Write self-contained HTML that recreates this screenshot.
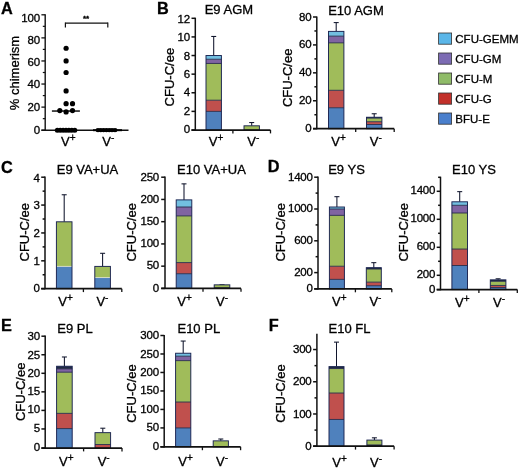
<!DOCTYPE html>
<html lang="en"><head><meta charset="utf-8"><title>Figure</title>
<style>
html,body{margin:0;padding:0;background:#fff;}
body{width:520px;height:468px;overflow:hidden;}
svg{display:block;font-family:"Liberation Sans", Arial, sans-serif;filter:blur(0.35px);}
text{fill:#000;stroke:#000;stroke-width:0.3px;}
</style></head><body>
<svg width="520" height="468" viewBox="0 0 520 468">
<rect x="0" y="0" width="520" height="468" fill="#ffffff"/>
<text x="1.00" y="13.50" font-size="16.3" text-anchor="start" font-weight="bold" >A</text>
<text x="157.00" y="13.50" font-size="16.3" text-anchor="start" font-weight="bold" >B</text>
<text x="1.00" y="172.70" font-size="16.3" text-anchor="start" font-weight="bold" >C</text>
<text x="267.70" y="172.30" font-size="16.3" text-anchor="start" font-weight="bold" >D</text>
<text x="1.00" y="331.20" font-size="16.3" text-anchor="start" font-weight="bold" >E</text>
<text x="268.70" y="330.80" font-size="16.3" text-anchor="start" font-weight="bold" >F</text>
<line x1="45.20" y1="14.20" x2="45.20" y2="130.80" stroke="#111" stroke-width="1.4"/>
<line x1="41.40" y1="130.20" x2="128.50" y2="130.20" stroke="#111" stroke-width="1.5"/>
<line x1="41.40" y1="130.20" x2="45.20" y2="130.20" stroke="#111" stroke-width="1.3"/>
<text x="39.80" y="133.90" font-size="11.5" text-anchor="end" font-weight="normal" letter-spacing="-0.25">0</text>
<line x1="41.40" y1="107.12" x2="45.20" y2="107.12" stroke="#111" stroke-width="1.3"/>
<text x="39.80" y="110.82" font-size="11.5" text-anchor="end" font-weight="normal" letter-spacing="-0.25">20</text>
<line x1="41.40" y1="84.04" x2="45.20" y2="84.04" stroke="#111" stroke-width="1.3"/>
<text x="39.80" y="88.14" font-size="11.5" text-anchor="end" font-weight="normal" letter-spacing="-0.25">40</text>
<line x1="41.40" y1="60.96" x2="45.20" y2="60.96" stroke="#111" stroke-width="1.3"/>
<text x="39.80" y="65.76" font-size="11.5" text-anchor="end" font-weight="normal" letter-spacing="-0.25">60</text>
<line x1="41.40" y1="37.88" x2="45.20" y2="37.88" stroke="#111" stroke-width="1.3"/>
<text x="39.80" y="43.58" font-size="11.5" text-anchor="end" font-weight="normal" letter-spacing="-0.25">80</text>
<line x1="41.40" y1="14.80" x2="45.20" y2="14.80" stroke="#111" stroke-width="1.3"/>
<text x="39.80" y="21.90" font-size="11.5" text-anchor="end" font-weight="normal" letter-spacing="-0.25">100</text>
<line x1="42.80" y1="118.66" x2="45.20" y2="118.66" stroke="#111" stroke-width="1.2"/>
<line x1="42.80" y1="95.58" x2="45.20" y2="95.58" stroke="#111" stroke-width="1.2"/>
<line x1="42.80" y1="72.50" x2="45.20" y2="72.50" stroke="#111" stroke-width="1.2"/>
<line x1="42.80" y1="49.42" x2="45.20" y2="49.42" stroke="#111" stroke-width="1.2"/>
<line x1="42.80" y1="26.34" x2="45.20" y2="26.34" stroke="#111" stroke-width="1.2"/>
<text transform="translate(19.2,73.00) rotate(-90)" font-size="13" text-anchor="middle">% chimerism</text>
<circle cx="66.1" cy="48.27" r="2.6" fill="#000"/>
<circle cx="66.1" cy="60.96" r="2.6" fill="#000"/>
<circle cx="66.1" cy="72.50" r="2.6" fill="#000"/>
<circle cx="66.1" cy="90.96" r="2.6" fill="#000"/>
<circle cx="66.1" cy="103.66" r="2.6" fill="#000"/>
<circle cx="72.5" cy="103.66" r="2.6" fill="#000"/>
<circle cx="59.8" cy="110.58" r="2.6" fill="#000"/>
<circle cx="66.1" cy="111.97" r="2.6" fill="#000"/>
<circle cx="72.5" cy="110.58" r="2.6" fill="#000"/>
<circle cx="57.3" cy="130.2" r="2.5" fill="#000"/>
<circle cx="60.2" cy="130.2" r="2.5" fill="#000"/>
<circle cx="63.1" cy="130.2" r="2.5" fill="#000"/>
<circle cx="66" cy="130.2" r="2.5" fill="#000"/>
<circle cx="68.9" cy="130.2" r="2.5" fill="#000"/>
<circle cx="71.8" cy="130.2" r="2.5" fill="#000"/>
<circle cx="74.8" cy="130.2" r="2.5" fill="#000"/>
<ellipse cx="98" cy="130.2" rx="2.5" ry="2.1" fill="#000"/>
<ellipse cx="100.8" cy="130.2" rx="2.5" ry="2.1" fill="#000"/>
<ellipse cx="103.6" cy="130.2" rx="2.5" ry="2.1" fill="#000"/>
<ellipse cx="106.4" cy="130.2" rx="2.5" ry="2.1" fill="#000"/>
<ellipse cx="109.2" cy="130.2" rx="2.5" ry="2.1" fill="#000"/>
<ellipse cx="112" cy="130.2" rx="2.5" ry="2.1" fill="#000"/>
<ellipse cx="115" cy="130.2" rx="2.5" ry="2.1" fill="#000"/>
<line x1="51.90" y1="111.04" x2="79.90" y2="111.04" stroke="#000" stroke-width="1.4"/>
<line x1="93.00" y1="130.20" x2="122.00" y2="130.20" stroke="#000" stroke-width="2.0"/>
<line x1="65.40" y1="23.10" x2="107.80" y2="23.10" stroke="#111" stroke-width="1.4"/>
<line x1="65.40" y1="22.40" x2="65.40" y2="27.50" stroke="#111" stroke-width="1.2"/>
<line x1="107.80" y1="22.40" x2="107.80" y2="27.50" stroke="#111" stroke-width="1.2"/>
<text x="86.10" y="20.60" font-size="8" text-anchor="middle" font-weight="bold" >**</text>
<text x="68.30" y="146.20" font-size="13" text-anchor="middle">V<tspan dy="-5" font-size="10.1">+</tspan></text>
<text x="108.30" y="146.20" font-size="13" text-anchor="middle">V<tspan dy="-5" font-size="10.1">-</tspan></text>
<line x1="213.70" y1="36.45" x2="213.70" y2="55.53" stroke="#10152c" stroke-width="1.05"/>
<line x1="211.20" y1="36.45" x2="216.20" y2="36.45" stroke="#10152c" stroke-width="1.05"/>
<rect x="206.00" y="111.38" width="15.40" height="18.62" fill="#4f81bd"/>
<rect x="206.00" y="100.21" width="15.40" height="11.17" fill="#c0504d"/>
<rect x="206.00" y="63.45" width="15.40" height="36.77" fill="#a0bc5a"/>
<rect x="206.00" y="59.26" width="15.40" height="4.19" fill="#8064a2"/>
<rect x="206.00" y="55.53" width="15.40" height="3.72" fill="#72bfe0"/>
<line x1="206.00" y1="111.38" x2="221.40" y2="111.38" stroke="#262a4a" stroke-width="0.9"/>
<line x1="206.00" y1="100.21" x2="221.40" y2="100.21" stroke="#262a4a" stroke-width="0.9"/>
<line x1="206.00" y1="63.45" x2="221.40" y2="63.45" stroke="#262a4a" stroke-width="0.9"/>
<line x1="206.00" y1="59.26" x2="221.40" y2="59.26" stroke="#262a4a" stroke-width="0.9"/>
<rect x="206.00" y="55.53" width="15.40" height="74.47" fill="none" stroke="#1a2350" stroke-width="0.95"/>
<line x1="251.70" y1="122.55" x2="251.70" y2="125.81" stroke="#10152c" stroke-width="1.05"/>
<line x1="249.20" y1="122.55" x2="254.20" y2="122.55" stroke="#10152c" stroke-width="1.05"/>
<rect x="244.00" y="125.81" width="15.40" height="4.19" fill="#a0bc5a"/>
<rect x="244.00" y="125.81" width="15.40" height="4.19" fill="none" stroke="#1a2350" stroke-width="0.95"/>
<line x1="195.30" y1="17.70" x2="195.30" y2="130.60" stroke="#111" stroke-width="1.5"/>
<line x1="191.50" y1="130.00" x2="270.50" y2="130.00" stroke="#111" stroke-width="1.75"/>
<line x1="191.50" y1="130.00" x2="195.30" y2="130.00" stroke="#111" stroke-width="1.5"/>
<text x="189.90" y="133.20" font-size="11.5" text-anchor="end" font-weight="normal" letter-spacing="-0.25">0</text>
<line x1="191.50" y1="111.38" x2="195.30" y2="111.38" stroke="#111" stroke-width="1.5"/>
<text x="189.90" y="114.78" font-size="11.5" text-anchor="end" font-weight="normal" letter-spacing="-0.25">2</text>
<line x1="191.50" y1="92.77" x2="195.30" y2="92.77" stroke="#111" stroke-width="1.5"/>
<text x="189.90" y="96.37" font-size="11.5" text-anchor="end" font-weight="normal" letter-spacing="-0.25">4</text>
<line x1="191.50" y1="74.15" x2="195.30" y2="74.15" stroke="#111" stroke-width="1.5"/>
<text x="189.90" y="77.95" font-size="11.5" text-anchor="end" font-weight="normal" letter-spacing="-0.25">6</text>
<line x1="191.50" y1="55.53" x2="195.30" y2="55.53" stroke="#111" stroke-width="1.5"/>
<text x="189.90" y="59.53" font-size="11.5" text-anchor="end" font-weight="normal" letter-spacing="-0.25">8</text>
<line x1="191.50" y1="36.92" x2="195.30" y2="36.92" stroke="#111" stroke-width="1.5"/>
<text x="189.90" y="41.12" font-size="11.5" text-anchor="end" font-weight="normal" letter-spacing="-0.25">10</text>
<line x1="191.50" y1="18.30" x2="195.30" y2="18.30" stroke="#111" stroke-width="1.5"/>
<text x="189.90" y="22.70" font-size="11.5" text-anchor="end" font-weight="normal" letter-spacing="-0.25">12</text>
<line x1="232.90" y1="130.00" x2="232.90" y2="133.40" stroke="#111" stroke-width="1.3"/>
<line x1="270.50" y1="130.00" x2="270.50" y2="133.40" stroke="#111" stroke-width="1.3"/>
<text x="228.90" y="14.00" font-size="13" text-anchor="middle" font-weight="normal" >E9 AGM</text>
<text transform="translate(174.40,77.15) rotate(-90)" font-size="13" text-anchor="middle">CFU-C/ee</text>
<text x="216.10" y="146.30" font-size="13" text-anchor="middle">V<tspan dy="-5" font-size="10.1">+</tspan></text>
<text x="253.30" y="146.30" font-size="13" text-anchor="middle">V<tspan dy="-5" font-size="10.1">-</tspan></text>
<line x1="336.20" y1="22.59" x2="336.20" y2="31.38" stroke="#10152c" stroke-width="1.05"/>
<line x1="333.70" y1="22.59" x2="338.70" y2="22.59" stroke="#10152c" stroke-width="1.05"/>
<rect x="328.50" y="107.76" width="15.40" height="20.94" fill="#4f81bd"/>
<rect x="328.50" y="90.30" width="15.40" height="17.45" fill="#c0504d"/>
<rect x="328.50" y="42.83" width="15.40" height="47.47" fill="#a0bc5a"/>
<rect x="328.50" y="36.13" width="15.40" height="6.70" fill="#8064a2"/>
<rect x="328.50" y="31.38" width="15.40" height="4.75" fill="#72bfe0"/>
<line x1="328.50" y1="107.76" x2="343.90" y2="107.76" stroke="#262a4a" stroke-width="0.9"/>
<line x1="328.50" y1="90.30" x2="343.90" y2="90.30" stroke="#262a4a" stroke-width="0.9"/>
<line x1="328.50" y1="42.83" x2="343.90" y2="42.83" stroke="#262a4a" stroke-width="0.9"/>
<line x1="328.50" y1="36.13" x2="343.90" y2="36.13" stroke="#262a4a" stroke-width="0.9"/>
<rect x="328.50" y="31.38" width="15.40" height="97.32" fill="none" stroke="#1a2350" stroke-width="0.95"/>
<line x1="374.20" y1="113.76" x2="374.20" y2="117.25" stroke="#10152c" stroke-width="1.05"/>
<line x1="371.70" y1="113.76" x2="376.70" y2="113.76" stroke="#10152c" stroke-width="1.05"/>
<rect x="366.50" y="124.51" width="15.40" height="4.19" fill="#4f81bd"/>
<rect x="366.50" y="121.72" width="15.40" height="2.79" fill="#c0504d"/>
<rect x="366.50" y="118.09" width="15.40" height="3.63" fill="#a0bc5a"/>
<rect x="366.50" y="117.25" width="15.40" height="0.84" fill="#1f2a44"/>
<line x1="366.50" y1="124.51" x2="381.90" y2="124.51" stroke="#262a4a" stroke-width="0.9"/>
<line x1="366.50" y1="121.72" x2="381.90" y2="121.72" stroke="#262a4a" stroke-width="0.9"/>
<line x1="366.50" y1="118.09" x2="381.90" y2="118.09" stroke="#262a4a" stroke-width="0.9"/>
<rect x="366.50" y="117.25" width="15.40" height="11.45" fill="none" stroke="#1a2350" stroke-width="0.95"/>
<line x1="316.80" y1="16.40" x2="316.80" y2="129.30" stroke="#111" stroke-width="1.5"/>
<line x1="313.00" y1="128.70" x2="394.20" y2="128.70" stroke="#111" stroke-width="1.75"/>
<line x1="313.00" y1="128.70" x2="316.80" y2="128.70" stroke="#111" stroke-width="1.5"/>
<text x="311.40" y="131.80" font-size="11.5" text-anchor="end" font-weight="normal" letter-spacing="-0.25">0</text>
<line x1="313.00" y1="100.77" x2="316.80" y2="100.77" stroke="#111" stroke-width="1.5"/>
<text x="311.40" y="104.02" font-size="11.5" text-anchor="end" font-weight="normal" letter-spacing="-0.25">20</text>
<line x1="313.00" y1="72.85" x2="316.80" y2="72.85" stroke="#111" stroke-width="1.5"/>
<text x="311.40" y="76.25" font-size="11.5" text-anchor="end" font-weight="normal" letter-spacing="-0.25">40</text>
<line x1="313.00" y1="44.92" x2="316.80" y2="44.92" stroke="#111" stroke-width="1.5"/>
<text x="311.40" y="48.48" font-size="11.5" text-anchor="end" font-weight="normal" letter-spacing="-0.25">60</text>
<line x1="313.00" y1="17.00" x2="316.80" y2="17.00" stroke="#111" stroke-width="1.5"/>
<text x="311.40" y="20.70" font-size="11.5" text-anchor="end" font-weight="normal" letter-spacing="-0.25">80</text>
<line x1="314.40" y1="114.74" x2="316.80" y2="114.74" stroke="#111" stroke-width="1.5"/>
<line x1="314.40" y1="86.81" x2="316.80" y2="86.81" stroke="#111" stroke-width="1.5"/>
<line x1="314.40" y1="58.89" x2="316.80" y2="58.89" stroke="#111" stroke-width="1.5"/>
<line x1="314.40" y1="30.96" x2="316.80" y2="30.96" stroke="#111" stroke-width="1.5"/>
<line x1="355.70" y1="128.70" x2="355.70" y2="132.10" stroke="#111" stroke-width="1.3"/>
<line x1="394.20" y1="128.70" x2="394.20" y2="132.10" stroke="#111" stroke-width="1.3"/>
<text x="356.00" y="14.70" font-size="13" text-anchor="middle" font-weight="normal" >E10 AGM</text>
<text transform="translate(292.00,77.85) rotate(-90)" font-size="13" text-anchor="middle">CFU-C/ee</text>
<text x="338.60" y="146.30" font-size="13" text-anchor="middle">V<tspan dy="-5" font-size="10.1">+</tspan></text>
<text x="375.80" y="146.30" font-size="13" text-anchor="middle">V<tspan dy="-5" font-size="10.1">-</tspan></text>
<rect x="438.6" y="33.00" width="13" height="11.2" fill="#5bb6e8" stroke="#333" stroke-width="0.8"/>
<text x="455.30" y="42.80" font-size="11.5" text-anchor="start" font-weight="normal" >CFU-GEMM</text>
<rect x="438.6" y="53.00" width="13" height="11.2" fill="#7c6bb3" stroke="#333" stroke-width="0.8"/>
<text x="455.30" y="62.80" font-size="11.5" text-anchor="start" font-weight="normal" >CFU-GM</text>
<rect x="438.6" y="73.00" width="13" height="11.2" fill="#8fbb68" stroke="#333" stroke-width="0.8"/>
<text x="455.30" y="82.80" font-size="11.5" text-anchor="start" font-weight="normal" >CFU-M</text>
<rect x="438.6" y="93.00" width="13" height="11.2" fill="#c2302a" stroke="#333" stroke-width="0.8"/>
<text x="455.30" y="102.80" font-size="11.5" text-anchor="start" font-weight="normal" >CFU-G</text>
<rect x="438.6" y="113.00" width="13" height="11.2" fill="#4a7fcc" stroke="#333" stroke-width="0.8"/>
<text x="455.30" y="122.80" font-size="11.5" text-anchor="start" font-weight="normal" >BFU-E</text>
<line x1="64.20" y1="194.76" x2="64.20" y2="221.80" stroke="#10152c" stroke-width="1.05"/>
<line x1="61.70" y1="194.76" x2="66.70" y2="194.76" stroke="#10152c" stroke-width="1.05"/>
<rect x="56.40" y="266.40" width="15.60" height="22.30" fill="#4f81bd"/>
<rect x="56.40" y="221.80" width="15.60" height="44.60" fill="#a0bc5a"/>
<line x1="56.40" y1="266.40" x2="72.00" y2="266.40" stroke="#e8e8d8" stroke-width="0.7"/>
<rect x="56.40" y="221.80" width="15.60" height="66.90" fill="none" stroke="#1a2350" stroke-width="0.95"/>
<line x1="102.60" y1="253.30" x2="102.60" y2="266.40" stroke="#10152c" stroke-width="1.05"/>
<line x1="100.10" y1="253.30" x2="105.10" y2="253.30" stroke="#10152c" stroke-width="1.05"/>
<rect x="94.80" y="277.55" width="15.60" height="11.15" fill="#4f81bd"/>
<rect x="94.80" y="266.40" width="15.60" height="11.15" fill="#a0bc5a"/>
<line x1="94.80" y1="277.55" x2="110.40" y2="277.55" stroke="#e8e8d8" stroke-width="0.7"/>
<rect x="94.80" y="266.40" width="15.60" height="22.30" fill="none" stroke="#1a2350" stroke-width="0.95"/>
<line x1="45.00" y1="176.60" x2="45.00" y2="289.30" stroke="#111" stroke-width="1.5"/>
<line x1="41.20" y1="288.70" x2="121.80" y2="288.70" stroke="#111" stroke-width="1.75"/>
<line x1="41.20" y1="288.70" x2="45.00" y2="288.70" stroke="#111" stroke-width="1.5"/>
<text x="39.60" y="292.20" font-size="11.5" text-anchor="end" font-weight="normal" letter-spacing="-0.25">0</text>
<line x1="41.20" y1="260.82" x2="45.00" y2="260.82" stroke="#111" stroke-width="1.5"/>
<text x="39.60" y="264.57" font-size="11.5" text-anchor="end" font-weight="normal" letter-spacing="-0.25">1</text>
<line x1="41.20" y1="232.95" x2="45.00" y2="232.95" stroke="#111" stroke-width="1.5"/>
<text x="39.60" y="236.95" font-size="11.5" text-anchor="end" font-weight="normal" letter-spacing="-0.25">2</text>
<line x1="41.20" y1="205.07" x2="45.00" y2="205.07" stroke="#111" stroke-width="1.5"/>
<text x="39.60" y="209.32" font-size="11.5" text-anchor="end" font-weight="normal" letter-spacing="-0.25">3</text>
<line x1="41.20" y1="177.20" x2="45.00" y2="177.20" stroke="#111" stroke-width="1.5"/>
<text x="39.60" y="181.70" font-size="11.5" text-anchor="end" font-weight="normal" letter-spacing="-0.25">4</text>
<line x1="42.60" y1="274.76" x2="45.00" y2="274.76" stroke="#111" stroke-width="1.5"/>
<line x1="42.60" y1="246.89" x2="45.00" y2="246.89" stroke="#111" stroke-width="1.5"/>
<line x1="42.60" y1="219.01" x2="45.00" y2="219.01" stroke="#111" stroke-width="1.5"/>
<line x1="42.60" y1="191.14" x2="45.00" y2="191.14" stroke="#111" stroke-width="1.5"/>
<line x1="83.40" y1="288.70" x2="83.40" y2="292.10" stroke="#111" stroke-width="1.3"/>
<line x1="121.80" y1="288.70" x2="121.80" y2="292.10" stroke="#111" stroke-width="1.3"/>
<text x="87.50" y="174.00" font-size="13" text-anchor="middle" font-weight="normal" >E9 VA+UA</text>
<text transform="translate(29.20,232.25) rotate(-90)" font-size="13" text-anchor="middle">CFU-C/ee</text>
<text x="65.60" y="305.80" font-size="13" text-anchor="middle">V<tspan dy="-5" font-size="10.1">+</tspan></text>
<text x="102.40" y="305.80" font-size="13" text-anchor="middle">V<tspan dy="-5" font-size="10.1">-</tspan></text>
<line x1="184.00" y1="183.87" x2="184.00" y2="199.88" stroke="#10152c" stroke-width="1.05"/>
<line x1="181.50" y1="183.87" x2="186.50" y2="183.87" stroke="#10152c" stroke-width="1.05"/>
<rect x="176.20" y="273.72" width="15.60" height="14.68" fill="#4f81bd"/>
<rect x="176.20" y="262.60" width="15.60" height="11.12" fill="#c0504d"/>
<rect x="176.20" y="215.90" width="15.60" height="46.70" fill="#a0bc5a"/>
<rect x="176.20" y="207.00" width="15.60" height="8.90" fill="#8064a2"/>
<rect x="176.20" y="199.88" width="15.60" height="7.12" fill="#72bfe0"/>
<line x1="176.20" y1="273.72" x2="191.80" y2="273.72" stroke="#262a4a" stroke-width="0.9"/>
<line x1="176.20" y1="262.60" x2="191.80" y2="262.60" stroke="#262a4a" stroke-width="0.9"/>
<line x1="176.20" y1="215.90" x2="191.80" y2="215.90" stroke="#262a4a" stroke-width="0.9"/>
<line x1="176.20" y1="207.00" x2="191.80" y2="207.00" stroke="#262a4a" stroke-width="0.9"/>
<rect x="176.20" y="199.88" width="15.60" height="88.52" fill="none" stroke="#1a2350" stroke-width="0.95"/>
<line x1="222.00" y1="284.84" x2="222.00" y2="284.84" stroke="#10152c" stroke-width="1.05"/>
<line x1="219.50" y1="284.84" x2="224.50" y2="284.84" stroke="#10152c" stroke-width="1.05"/>
<rect x="214.20" y="287.73" width="15.60" height="0.67" fill="#1f2a44"/>
<rect x="214.20" y="284.84" width="15.60" height="2.89" fill="#a0bc5a"/>
<line x1="214.20" y1="287.73" x2="229.80" y2="287.73" stroke="#262a4a" stroke-width="0.9"/>
<rect x="214.20" y="284.84" width="15.60" height="3.56" fill="none" stroke="#1a2350" stroke-width="0.95"/>
<line x1="165.00" y1="176.60" x2="165.00" y2="289.00" stroke="#111" stroke-width="1.5"/>
<line x1="161.20" y1="288.40" x2="241.00" y2="288.40" stroke="#111" stroke-width="1.75"/>
<line x1="161.20" y1="288.40" x2="165.00" y2="288.40" stroke="#111" stroke-width="1.5"/>
<text x="159.00" y="291.70" font-size="11.5" text-anchor="end" font-weight="normal" letter-spacing="-0.25">0</text>
<line x1="161.20" y1="266.16" x2="165.00" y2="266.16" stroke="#111" stroke-width="1.5"/>
<text x="159.00" y="269.46" font-size="11.5" text-anchor="end" font-weight="normal" letter-spacing="-0.25">50</text>
<line x1="161.20" y1="243.92" x2="165.00" y2="243.92" stroke="#111" stroke-width="1.5"/>
<text x="159.00" y="247.22" font-size="11.5" text-anchor="end" font-weight="normal" letter-spacing="-0.25">100</text>
<line x1="161.20" y1="221.68" x2="165.00" y2="221.68" stroke="#111" stroke-width="1.5"/>
<text x="159.00" y="224.98" font-size="11.5" text-anchor="end" font-weight="normal" letter-spacing="-0.25">150</text>
<line x1="161.20" y1="199.44" x2="165.00" y2="199.44" stroke="#111" stroke-width="1.5"/>
<text x="159.00" y="202.74" font-size="11.5" text-anchor="end" font-weight="normal" letter-spacing="-0.25">200</text>
<line x1="161.20" y1="177.20" x2="165.00" y2="177.20" stroke="#111" stroke-width="1.5"/>
<text x="159.00" y="180.50" font-size="11.5" text-anchor="end" font-weight="normal" letter-spacing="-0.25">250</text>
<line x1="203.00" y1="288.40" x2="203.00" y2="291.80" stroke="#111" stroke-width="1.3"/>
<line x1="241.00" y1="288.40" x2="241.00" y2="291.80" stroke="#111" stroke-width="1.3"/>
<text x="211.50" y="174.20" font-size="13" text-anchor="middle" font-weight="normal" >E10 VA+UA</text>
<text transform="translate(135.80,232.30) rotate(-90)" font-size="13" text-anchor="middle">CFU-C/ee</text>
<text x="184.60" y="305.90" font-size="13" text-anchor="middle">V<tspan dy="-5" font-size="10.1">+</tspan></text>
<text x="222.10" y="305.90" font-size="13" text-anchor="middle">V<tspan dy="-5" font-size="10.1">-</tspan></text>
<line x1="336.90" y1="196.68" x2="336.90" y2="207.01" stroke="#10152c" stroke-width="1.05"/>
<line x1="334.40" y1="196.68" x2="339.40" y2="196.68" stroke="#10152c" stroke-width="1.05"/>
<rect x="329.40" y="279.36" width="15.00" height="9.54" fill="#4f81bd"/>
<rect x="329.40" y="266.24" width="15.00" height="13.12" fill="#c0504d"/>
<rect x="329.40" y="215.36" width="15.00" height="50.88" fill="#a0bc5a"/>
<rect x="329.40" y="209.00" width="15.00" height="6.36" fill="#8064a2"/>
<rect x="329.40" y="207.01" width="15.00" height="1.99" fill="#72bfe0"/>
<line x1="329.40" y1="279.36" x2="344.40" y2="279.36" stroke="#262a4a" stroke-width="0.9"/>
<line x1="329.40" y1="266.24" x2="344.40" y2="266.24" stroke="#262a4a" stroke-width="0.9"/>
<line x1="329.40" y1="215.36" x2="344.40" y2="215.36" stroke="#262a4a" stroke-width="0.9"/>
<line x1="329.40" y1="209.00" x2="344.40" y2="209.00" stroke="#262a4a" stroke-width="0.9"/>
<rect x="329.40" y="207.01" width="15.00" height="81.89" fill="none" stroke="#1a2350" stroke-width="0.95"/>
<line x1="373.80" y1="262.66" x2="373.80" y2="267.67" stroke="#10152c" stroke-width="1.05"/>
<line x1="371.30" y1="262.66" x2="376.30" y2="262.66" stroke="#10152c" stroke-width="1.05"/>
<rect x="366.30" y="285.72" width="15.00" height="3.18" fill="#4f81bd"/>
<rect x="366.30" y="282.14" width="15.00" height="3.58" fill="#c0504d"/>
<rect x="366.30" y="269.02" width="15.00" height="13.12" fill="#a0bc5a"/>
<rect x="366.30" y="267.67" width="15.00" height="1.35" fill="#1f2a44"/>
<line x1="366.30" y1="285.72" x2="381.30" y2="285.72" stroke="#262a4a" stroke-width="0.9"/>
<line x1="366.30" y1="282.14" x2="381.30" y2="282.14" stroke="#262a4a" stroke-width="0.9"/>
<line x1="366.30" y1="269.02" x2="381.30" y2="269.02" stroke="#262a4a" stroke-width="0.9"/>
<rect x="366.30" y="267.67" width="15.00" height="21.23" fill="none" stroke="#1a2350" stroke-width="0.95"/>
<line x1="318.00" y1="176.60" x2="318.00" y2="289.50" stroke="#111" stroke-width="1.5"/>
<line x1="314.20" y1="288.90" x2="391.80" y2="288.90" stroke="#111" stroke-width="1.75"/>
<line x1="314.20" y1="288.90" x2="318.00" y2="288.90" stroke="#111" stroke-width="1.5"/>
<text x="312.60" y="291.90" font-size="11.5" text-anchor="end" font-weight="normal" letter-spacing="-0.25">0</text>
<line x1="314.20" y1="272.60" x2="318.00" y2="272.60" stroke="#111" stroke-width="1.5"/>
<text x="312.60" y="275.69" font-size="11.5" text-anchor="end" font-weight="normal" letter-spacing="-0.25">200</text>
<line x1="314.20" y1="240.80" x2="318.00" y2="240.80" stroke="#111" stroke-width="1.5"/>
<text x="312.60" y="244.06" font-size="11.5" text-anchor="end" font-weight="normal" letter-spacing="-0.25">600</text>
<line x1="314.20" y1="209.00" x2="318.00" y2="209.00" stroke="#111" stroke-width="1.5"/>
<text x="312.60" y="212.43" font-size="11.5" text-anchor="end" font-weight="normal" letter-spacing="-0.25">1000</text>
<line x1="314.20" y1="177.20" x2="318.00" y2="177.20" stroke="#111" stroke-width="1.5"/>
<text x="312.60" y="180.80" font-size="11.5" text-anchor="end" font-weight="normal" letter-spacing="-0.25">1400</text>
<line x1="315.60" y1="256.70" x2="318.00" y2="256.70" stroke="#111" stroke-width="1.5"/>
<line x1="315.60" y1="224.90" x2="318.00" y2="224.90" stroke="#111" stroke-width="1.5"/>
<line x1="315.60" y1="193.10" x2="318.00" y2="193.10" stroke="#111" stroke-width="1.5"/>
<line x1="355.40" y1="288.90" x2="355.40" y2="292.30" stroke="#111" stroke-width="1.3"/>
<line x1="391.80" y1="288.90" x2="391.80" y2="292.30" stroke="#111" stroke-width="1.3"/>
<text x="346.50" y="173.70" font-size="13" text-anchor="middle" font-weight="normal" >E9 YS</text>
<text transform="translate(284.70,232.35) rotate(-90)" font-size="13" text-anchor="middle">CFU-C/ee</text>
<text x="339.30" y="306.00" font-size="13" text-anchor="middle">V<tspan dy="-5" font-size="10.1">+</tspan></text>
<text x="375.40" y="306.00" font-size="13" text-anchor="middle">V<tspan dy="-5" font-size="10.1">-</tspan></text>
<line x1="459.70" y1="191.65" x2="459.70" y2="201.80" stroke="#10152c" stroke-width="1.05"/>
<line x1="457.20" y1="191.65" x2="462.20" y2="191.65" stroke="#10152c" stroke-width="1.05"/>
<rect x="451.90" y="265.50" width="15.60" height="24.10" fill="#4f81bd"/>
<rect x="451.90" y="249.05" width="15.60" height="16.45" fill="#c0504d"/>
<rect x="451.90" y="213.00" width="15.60" height="36.05" fill="#a0bc5a"/>
<rect x="451.90" y="205.30" width="15.60" height="7.70" fill="#8064a2"/>
<rect x="451.90" y="201.80" width="15.60" height="3.50" fill="#72bfe0"/>
<line x1="451.90" y1="265.50" x2="467.50" y2="265.50" stroke="#262a4a" stroke-width="0.9"/>
<line x1="451.90" y1="249.05" x2="467.50" y2="249.05" stroke="#262a4a" stroke-width="0.9"/>
<line x1="451.90" y1="213.00" x2="467.50" y2="213.00" stroke="#262a4a" stroke-width="0.9"/>
<line x1="451.90" y1="205.30" x2="467.50" y2="205.30" stroke="#262a4a" stroke-width="0.9"/>
<rect x="451.90" y="201.80" width="15.60" height="87.80" fill="none" stroke="#1a2350" stroke-width="0.95"/>
<line x1="498.10" y1="278.80" x2="498.10" y2="279.85" stroke="#10152c" stroke-width="1.05"/>
<line x1="495.60" y1="278.80" x2="500.60" y2="278.80" stroke="#10152c" stroke-width="1.05"/>
<rect x="490.30" y="287.55" width="15.60" height="2.05" fill="#4f81bd"/>
<rect x="490.30" y="285.45" width="15.60" height="2.10" fill="#c0504d"/>
<rect x="490.30" y="281.25" width="15.60" height="4.20" fill="#a0bc5a"/>
<rect x="490.30" y="279.85" width="15.60" height="1.40" fill="#1f2a44"/>
<line x1="490.30" y1="287.55" x2="505.90" y2="287.55" stroke="#262a4a" stroke-width="0.9"/>
<line x1="490.30" y1="285.45" x2="505.90" y2="285.45" stroke="#262a4a" stroke-width="0.9"/>
<line x1="490.30" y1="281.25" x2="505.90" y2="281.25" stroke="#262a4a" stroke-width="0.9"/>
<rect x="490.30" y="279.85" width="15.60" height="9.75" fill="none" stroke="#1a2350" stroke-width="0.95"/>
<line x1="440.50" y1="176.70" x2="440.50" y2="290.20" stroke="#111" stroke-width="1.5"/>
<line x1="436.70" y1="289.60" x2="517.30" y2="289.60" stroke="#111" stroke-width="1.75"/>
<line x1="436.70" y1="289.60" x2="440.50" y2="289.60" stroke="#111" stroke-width="1.5"/>
<text x="435.10" y="292.70" font-size="11.5" text-anchor="end" font-weight="normal" letter-spacing="-0.25">0</text>
<line x1="436.70" y1="275.30" x2="440.50" y2="275.30" stroke="#111" stroke-width="1.5"/>
<text x="435.10" y="278.40" font-size="11.5" text-anchor="end" font-weight="normal" letter-spacing="-0.25">200</text>
<line x1="436.70" y1="247.30" x2="440.50" y2="247.30" stroke="#111" stroke-width="1.5"/>
<text x="435.10" y="250.40" font-size="11.5" text-anchor="end" font-weight="normal" letter-spacing="-0.25">600</text>
<line x1="436.70" y1="219.30" x2="440.50" y2="219.30" stroke="#111" stroke-width="1.5"/>
<text x="435.10" y="222.40" font-size="11.5" text-anchor="end" font-weight="normal" letter-spacing="-0.25">1000</text>
<line x1="436.70" y1="191.30" x2="440.50" y2="191.30" stroke="#111" stroke-width="1.5"/>
<text x="435.10" y="194.40" font-size="11.5" text-anchor="end" font-weight="normal" letter-spacing="-0.25">1400</text>
<line x1="438.10" y1="261.30" x2="440.50" y2="261.30" stroke="#111" stroke-width="1.5"/>
<line x1="438.10" y1="233.30" x2="440.50" y2="233.30" stroke="#111" stroke-width="1.5"/>
<line x1="438.10" y1="205.30" x2="440.50" y2="205.30" stroke="#111" stroke-width="1.5"/>
<line x1="438.10" y1="177.30" x2="440.50" y2="177.30" stroke="#111" stroke-width="1.5"/>
<line x1="478.90" y1="289.60" x2="478.90" y2="293.00" stroke="#111" stroke-width="1.3"/>
<line x1="517.30" y1="289.60" x2="517.30" y2="293.00" stroke="#111" stroke-width="1.3"/>
<text x="474.00" y="173.50" font-size="13" text-anchor="middle" font-weight="normal" >E10 YS</text>
<text transform="translate(407.80,232.30) rotate(-90)" font-size="13" text-anchor="middle">CFU-C/ee</text>
<text x="462.30" y="307.00" font-size="13" text-anchor="middle">V<tspan dy="-5" font-size="10.1">+</tspan></text>
<text x="499.00" y="307.00" font-size="13" text-anchor="middle">V<tspan dy="-5" font-size="10.1">-</tspan></text>
<line x1="64.40" y1="356.98" x2="64.40" y2="366.25" stroke="#10152c" stroke-width="1.05"/>
<line x1="61.90" y1="356.98" x2="66.90" y2="356.98" stroke="#10152c" stroke-width="1.05"/>
<rect x="56.60" y="428.58" width="15.60" height="19.42" fill="#4f81bd"/>
<rect x="56.60" y="413.37" width="15.60" height="15.21" fill="#c0504d"/>
<rect x="56.60" y="372.19" width="15.60" height="41.18" fill="#a0bc5a"/>
<rect x="56.60" y="368.85" width="15.60" height="3.34" fill="#8064a2"/>
<rect x="56.60" y="366.25" width="15.60" height="2.60" fill="#1f2a44"/>
<line x1="56.60" y1="428.58" x2="72.20" y2="428.58" stroke="#262a4a" stroke-width="0.9"/>
<line x1="56.60" y1="413.37" x2="72.20" y2="413.37" stroke="#262a4a" stroke-width="0.9"/>
<line x1="56.60" y1="372.19" x2="72.20" y2="372.19" stroke="#262a4a" stroke-width="0.9"/>
<line x1="56.60" y1="368.85" x2="72.20" y2="368.85" stroke="#262a4a" stroke-width="0.9"/>
<rect x="56.60" y="366.25" width="15.60" height="81.75" fill="none" stroke="#1a2350" stroke-width="0.95"/>
<line x1="102.80" y1="428.21" x2="102.80" y2="432.66" stroke="#10152c" stroke-width="1.05"/>
<line x1="100.30" y1="428.21" x2="105.30" y2="428.21" stroke="#10152c" stroke-width="1.05"/>
<rect x="95.00" y="444.53" width="15.60" height="3.47" fill="#c0504d"/>
<rect x="95.00" y="432.66" width="15.60" height="11.87" fill="#a0bc5a"/>
<line x1="95.00" y1="444.53" x2="110.60" y2="444.53" stroke="#262a4a" stroke-width="0.9"/>
<rect x="95.00" y="432.66" width="15.60" height="15.34" fill="none" stroke="#1a2350" stroke-width="0.95"/>
<line x1="45.20" y1="335.60" x2="45.20" y2="448.60" stroke="#111" stroke-width="1.5"/>
<line x1="41.40" y1="448.00" x2="122.00" y2="448.00" stroke="#111" stroke-width="1.75"/>
<line x1="41.40" y1="448.00" x2="45.20" y2="448.00" stroke="#111" stroke-width="1.5"/>
<text x="39.80" y="450.50" font-size="11.5" text-anchor="end" font-weight="normal" letter-spacing="-0.25">0</text>
<line x1="41.40" y1="428.95" x2="45.20" y2="428.95" stroke="#111" stroke-width="1.5"/>
<text x="39.80" y="431.72" font-size="11.5" text-anchor="end" font-weight="normal" letter-spacing="-0.25">5</text>
<line x1="41.40" y1="410.40" x2="45.20" y2="410.40" stroke="#111" stroke-width="1.5"/>
<text x="39.80" y="413.43" font-size="11.5" text-anchor="end" font-weight="normal" letter-spacing="-0.25">10</text>
<line x1="41.40" y1="391.85" x2="45.20" y2="391.85" stroke="#111" stroke-width="1.5"/>
<text x="39.80" y="395.15" font-size="11.5" text-anchor="end" font-weight="normal" letter-spacing="-0.25">15</text>
<line x1="41.40" y1="373.30" x2="45.20" y2="373.30" stroke="#111" stroke-width="1.5"/>
<text x="39.80" y="376.87" font-size="11.5" text-anchor="end" font-weight="normal" letter-spacing="-0.25">20</text>
<line x1="41.40" y1="354.75" x2="45.20" y2="354.75" stroke="#111" stroke-width="1.5"/>
<text x="39.80" y="358.58" font-size="11.5" text-anchor="end" font-weight="normal" letter-spacing="-0.25">25</text>
<line x1="41.40" y1="336.20" x2="45.20" y2="336.20" stroke="#111" stroke-width="1.5"/>
<text x="39.80" y="340.30" font-size="11.5" text-anchor="end" font-weight="normal" letter-spacing="-0.25">30</text>
<line x1="83.60" y1="448.00" x2="83.60" y2="451.40" stroke="#111" stroke-width="1.3"/>
<line x1="122.00" y1="448.00" x2="122.00" y2="451.40" stroke="#111" stroke-width="1.3"/>
<text x="75.00" y="333.00" font-size="13" text-anchor="middle" font-weight="normal" >E9 PL</text>
<text transform="translate(25.00,391.85) rotate(-90)" font-size="13" text-anchor="middle">CFU-C/ee</text>
<text x="66.30" y="466.20" font-size="13" text-anchor="middle">V<tspan dy="-5" font-size="10.1">+</tspan></text>
<text x="103.70" y="466.20" font-size="13" text-anchor="middle">V<tspan dy="-5" font-size="10.1">-</tspan></text>
<line x1="183.20" y1="341.05" x2="183.20" y2="353.24" stroke="#10152c" stroke-width="1.05"/>
<line x1="180.70" y1="341.05" x2="185.70" y2="341.05" stroke="#10152c" stroke-width="1.05"/>
<rect x="175.60" y="427.92" width="15.20" height="18.88" fill="#4f81bd"/>
<rect x="175.60" y="402.04" width="15.20" height="25.88" fill="#c0504d"/>
<rect x="175.60" y="360.64" width="15.20" height="41.40" fill="#a0bc5a"/>
<rect x="175.60" y="356.20" width="15.20" height="4.44" fill="#8064a2"/>
<rect x="175.60" y="353.24" width="15.20" height="2.96" fill="#72bfe0"/>
<line x1="175.60" y1="427.92" x2="190.80" y2="427.92" stroke="#262a4a" stroke-width="0.9"/>
<line x1="175.60" y1="402.04" x2="190.80" y2="402.04" stroke="#262a4a" stroke-width="0.9"/>
<line x1="175.60" y1="360.64" x2="190.80" y2="360.64" stroke="#262a4a" stroke-width="0.9"/>
<line x1="175.60" y1="356.20" x2="190.80" y2="356.20" stroke="#262a4a" stroke-width="0.9"/>
<rect x="175.60" y="353.24" width="15.20" height="93.56" fill="none" stroke="#1a2350" stroke-width="0.95"/>
<line x1="220.80" y1="439.01" x2="220.80" y2="440.85" stroke="#10152c" stroke-width="1.05"/>
<line x1="218.30" y1="439.01" x2="223.30" y2="439.01" stroke="#10152c" stroke-width="1.05"/>
<rect x="213.20" y="440.85" width="15.20" height="5.95" fill="#a0bc5a"/>
<rect x="213.20" y="440.85" width="15.20" height="5.95" fill="none" stroke="#1a2350" stroke-width="0.95"/>
<line x1="164.20" y1="334.90" x2="164.20" y2="447.40" stroke="#111" stroke-width="1.5"/>
<line x1="160.40" y1="446.80" x2="240.60" y2="446.80" stroke="#111" stroke-width="1.75"/>
<line x1="160.40" y1="446.80" x2="164.20" y2="446.80" stroke="#111" stroke-width="1.5"/>
<text x="158.80" y="449.70" font-size="11.5" text-anchor="end" font-weight="normal" letter-spacing="-0.25">0</text>
<line x1="160.40" y1="427.92" x2="164.20" y2="427.92" stroke="#111" stroke-width="1.5"/>
<text x="158.80" y="430.95" font-size="11.5" text-anchor="end" font-weight="normal" letter-spacing="-0.25">50</text>
<line x1="160.40" y1="409.43" x2="164.20" y2="409.43" stroke="#111" stroke-width="1.5"/>
<text x="158.80" y="412.60" font-size="11.5" text-anchor="end" font-weight="normal" letter-spacing="-0.25">100</text>
<line x1="160.40" y1="390.95" x2="164.20" y2="390.95" stroke="#111" stroke-width="1.5"/>
<text x="158.80" y="394.25" font-size="11.5" text-anchor="end" font-weight="normal" letter-spacing="-0.25">150</text>
<line x1="160.40" y1="372.47" x2="164.20" y2="372.47" stroke="#111" stroke-width="1.5"/>
<text x="158.80" y="375.90" font-size="11.5" text-anchor="end" font-weight="normal" letter-spacing="-0.25">200</text>
<line x1="160.40" y1="353.98" x2="164.20" y2="353.98" stroke="#111" stroke-width="1.5"/>
<text x="158.80" y="357.55" font-size="11.5" text-anchor="end" font-weight="normal" letter-spacing="-0.25">250</text>
<line x1="160.40" y1="335.50" x2="164.20" y2="335.50" stroke="#111" stroke-width="1.5"/>
<text x="158.80" y="339.20" font-size="11.5" text-anchor="end" font-weight="normal" letter-spacing="-0.25">300</text>
<line x1="202.40" y1="446.80" x2="202.40" y2="450.20" stroke="#111" stroke-width="1.3"/>
<line x1="240.60" y1="446.80" x2="240.60" y2="450.20" stroke="#111" stroke-width="1.3"/>
<text x="198.80" y="333.40" font-size="13" text-anchor="middle" font-weight="normal" >E10 PL</text>
<text transform="translate(136.00,393.55) rotate(-90)" font-size="13" text-anchor="middle">CFU-C/ee</text>
<text x="185.50" y="466.20" font-size="13" text-anchor="middle">V<tspan dy="-5" font-size="10.1">+</tspan></text>
<text x="222.10" y="466.20" font-size="13" text-anchor="middle">V<tspan dy="-5" font-size="10.1">-</tspan></text>
<line x1="336.50" y1="342.13" x2="336.50" y2="366.62" stroke="#10152c" stroke-width="1.05"/>
<line x1="334.00" y1="342.13" x2="339.00" y2="342.13" stroke="#10152c" stroke-width="1.05"/>
<rect x="329.00" y="419.46" width="15.00" height="26.74" fill="#4f81bd"/>
<rect x="329.00" y="393.04" width="15.00" height="26.42" fill="#c0504d"/>
<rect x="329.00" y="368.55" width="15.00" height="24.49" fill="#a0bc5a"/>
<rect x="329.00" y="366.62" width="15.00" height="1.93" fill="#1f2a44"/>
<line x1="329.00" y1="419.46" x2="344.00" y2="419.46" stroke="#262a4a" stroke-width="0.9"/>
<line x1="329.00" y1="393.04" x2="344.00" y2="393.04" stroke="#262a4a" stroke-width="0.9"/>
<line x1="329.00" y1="368.55" x2="344.00" y2="368.55" stroke="#262a4a" stroke-width="0.9"/>
<rect x="329.00" y="366.62" width="15.00" height="79.58" fill="none" stroke="#1a2350" stroke-width="0.95"/>
<line x1="374.40" y1="437.82" x2="374.40" y2="440.08" stroke="#10152c" stroke-width="1.05"/>
<line x1="371.90" y1="437.82" x2="376.90" y2="437.82" stroke="#10152c" stroke-width="1.05"/>
<rect x="366.90" y="444.91" width="15.00" height="1.29" fill="#1f2a44"/>
<rect x="366.90" y="440.08" width="15.00" height="4.83" fill="#a0bc5a"/>
<line x1="366.90" y1="444.91" x2="381.90" y2="444.91" stroke="#262a4a" stroke-width="0.9"/>
<rect x="366.90" y="440.08" width="15.00" height="6.12" fill="none" stroke="#1a2350" stroke-width="0.95"/>
<line x1="316.90" y1="333.80" x2="316.90" y2="446.80" stroke="#111" stroke-width="1.5"/>
<line x1="313.10" y1="446.20" x2="394.10" y2="446.20" stroke="#111" stroke-width="1.75"/>
<line x1="313.10" y1="446.20" x2="316.90" y2="446.20" stroke="#111" stroke-width="1.5"/>
<text x="311.50" y="449.70" font-size="11.5" text-anchor="end" font-weight="normal" letter-spacing="-0.25">0</text>
<line x1="313.10" y1="413.98" x2="316.90" y2="413.98" stroke="#111" stroke-width="1.5"/>
<text x="311.50" y="417.54" font-size="11.5" text-anchor="end" font-weight="normal" letter-spacing="-0.25">100</text>
<line x1="313.10" y1="381.76" x2="316.90" y2="381.76" stroke="#111" stroke-width="1.5"/>
<text x="311.50" y="385.38" font-size="11.5" text-anchor="end" font-weight="normal" letter-spacing="-0.25">200</text>
<line x1="313.10" y1="349.54" x2="316.90" y2="349.54" stroke="#111" stroke-width="1.5"/>
<text x="311.50" y="353.22" font-size="11.5" text-anchor="end" font-weight="normal" letter-spacing="-0.25">300</text>
<line x1="314.50" y1="430.09" x2="316.90" y2="430.09" stroke="#111" stroke-width="1.5"/>
<line x1="314.50" y1="397.87" x2="316.90" y2="397.87" stroke="#111" stroke-width="1.5"/>
<line x1="314.50" y1="365.65" x2="316.90" y2="365.65" stroke="#111" stroke-width="1.5"/>
<line x1="355.50" y1="446.20" x2="355.50" y2="449.60" stroke="#111" stroke-width="1.3"/>
<line x1="394.10" y1="446.20" x2="394.10" y2="449.60" stroke="#111" stroke-width="1.3"/>
<text x="349.50" y="333.00" font-size="13" text-anchor="middle" font-weight="normal" >E10 FL</text>
<text transform="translate(284.60,393.50) rotate(-90)" font-size="13" text-anchor="middle">CFU-C/ee</text>
<text x="339.60" y="466.60" font-size="13" text-anchor="middle">V<tspan dy="-5" font-size="10.1">+</tspan></text>
<text x="376.00" y="466.60" font-size="13" text-anchor="middle">V<tspan dy="-5" font-size="10.1">-</tspan></text>
</svg>
</body></html>
